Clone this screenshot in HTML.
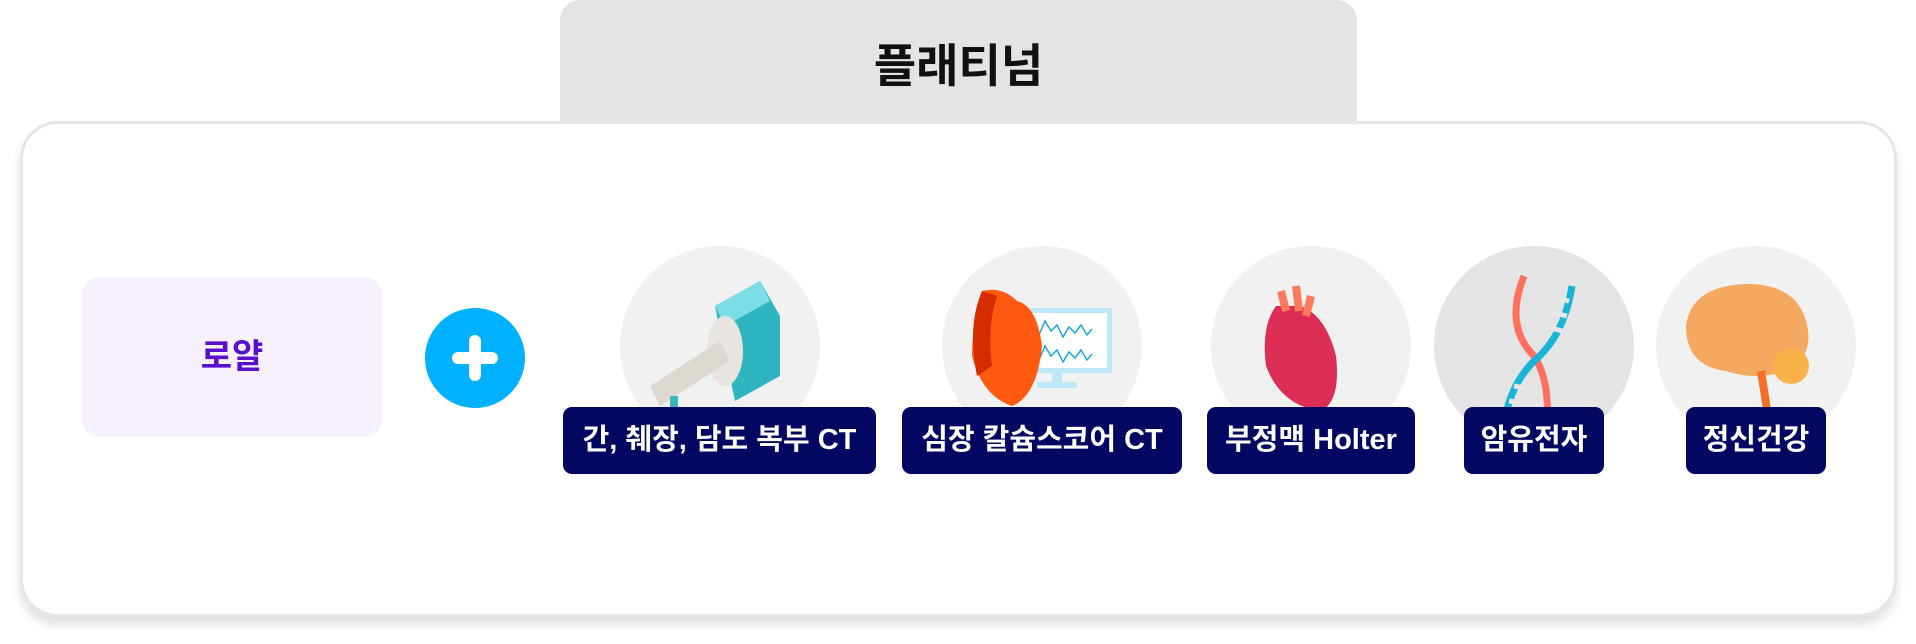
<!DOCTYPE html>
<html><head><meta charset="utf-8"><style>
body{margin:0;width:1916px;height:644px;background:#fff;position:relative;overflow:hidden;font-family:"Liberation Sans","Noto Sans CJK KR",sans-serif;}
.tab{position:absolute;left:560px;top:0;width:797px;height:140px;background:#e4e4e4;border-radius:20px 20px 0 0;}
.tab span{position:absolute;left:0;right:0;top:30px;text-align:center;font-size:46px;font-weight:bold;color:#111;}
.main{position:absolute;left:20px;top:121px;width:1871px;height:490px;border:3px solid #e6e6e6;border-radius:38px;background:#fff;box-shadow:0 8px 10px rgba(0,0,0,0.12);}
.royal{position:absolute;left:82px;top:277px;width:300px;height:160px;background:#f6f1fd;border-radius:18px;color:#5a0fcf;font-size:34px;font-weight:bold;text-align:center;line-height:160px;}
.plus{position:absolute;left:425px;top:308px;width:100px;height:100px;border-radius:50%;background:#00b1ff;}
.plus:before{content:"";position:absolute;left:27px;top:44px;width:46px;height:12px;background:#fff;border-radius:6px;}
.plus:after{content:"";position:absolute;left:44px;top:27px;width:12px;height:46px;background:#fff;border-radius:6px;}
.c{position:absolute;top:246px;width:200px;height:200px;border-radius:50%;background:#f1f1f1;overflow:hidden;}
.lab{position:absolute;top:407px;height:67px;background:#020862;color:#fff;font-size:29px;font-weight:bold;border-radius:9px;text-align:center;line-height:67px;white-space:nowrap;}
</style></head><body>
<div class="tab"><span>플래티넘</span></div>
<div class="main"></div>
<div class="royal">로얄</div>
<div class="plus"></div>

<div class="c" style="left:620px"><svg width="200" height="200">
<path d="M95 60 L140 35 L160 70 L160 130 L115 155 Z" fill="#2fb5bf"/><path d="M95 60 L140 35 L150 55 L105 80Z" fill="#7ddde6"/>
<ellipse cx="105" cy="105" rx="18" ry="35" fill="#e8e4e0"/><path d="M30 140 L100 95 L110 115 L40 160Z" fill="#ddd8d2"/>
<rect x="50" y="150" width="8" height="25" fill="#3cb7bd"/></svg></div>
<div class="c" style="left:942px"><svg width="200" height="200">
<rect x="80" y="62" width="90" height="65" fill="#bde9f7"/><rect x="85" y="67" width="80" height="55" fill="#fff"/>
<path d="M86 85 l6 -8 l5 12 l6 -14 l6 10 l6 -6 l6 12 l6 -10 l6 6 l6 -8 l6 10 l5 -6 M86 110 l6 -8 l5 12 l6 -14 l6 10 l6 -6 l6 12 l6 -10 l6 6 l6 -8 l6 10 l5 -6" stroke="#19a8d6" fill="none" stroke-width="1.5"/>
<rect x="110" y="127" width="10" height="10" fill="#bde9f7"/><rect x="95" y="136" width="40" height="6" fill="#bde9f7"/>
<path d="M40 45 Q30 80 30 110 Q40 150 70 160 Q95 150 100 100 Q95 60 75 55 Q60 40 40 45Z" fill="#ff5a10"/>
<path d="M40 45 Q25 80 35 130 L50 120 Q45 80 55 50Z" fill="#d62d00"/></svg></div>
<div class="c" style="left:1211px"><svg width="200" height="200">
<path d="M65 60 Q50 80 55 120 Q70 160 110 165 Q130 155 125 110 Q115 70 90 60Z" fill="#dc2d55"/>
<path d="M70 45 L75 65 M85 40 L88 65 M100 50 L95 70" stroke="#ff7a5a" stroke-width="8"/></svg></div>
<div class="c" style="left:1434px;background:#e4e4e4"><svg width="200" height="200">
<path d="M90 30 Q70 80 100 110 Q120 140 110 200" stroke="#ff6f5e" stroke-width="7" fill="none"/>
<path d="M138 40 Q130 90 100 115 Q75 140 70 180" stroke="#1ab3d8" stroke-width="7" fill="none"/>
<g stroke="#e6e6e6" stroke-width="5"><line x1="92" y1="45" x2="135" y2="55"/><line x1="90" y1="60" x2="133" y2="70"/><line x1="92" y1="75" x2="128" y2="85"/><line x1="80" y1="140" x2="105" y2="145"/><line x1="75" y1="155" x2="110" y2="160"/></g></svg></div>
<div class="c" style="left:1656px"><svg width="200" height="200">
<path d="M30 80 Q35 40 90 38 Q140 38 150 75 Q160 110 130 125 Q100 135 70 125 Q30 120 30 80Z" fill="#f4a860"/>
<circle cx="135" cy="120" r="18" fill="#f7b347"/><path d="M105 125 L112 170" stroke="#f3702a" stroke-width="8"/></svg></div>

<div class="lab" style="left:563px;width:313px">간, 췌장, 담도 복부 CT</div>
<div class="lab" style="left:902px;width:280px">심장 칼슘스코어 CT</div>
<div class="lab" style="left:1207px;width:208px">부정맥 Holter</div>
<div class="lab" style="left:1464px;width:140px">암유전자</div>
<div class="lab" style="left:1686px;width:140px">정신건강</div>
</body></html>
